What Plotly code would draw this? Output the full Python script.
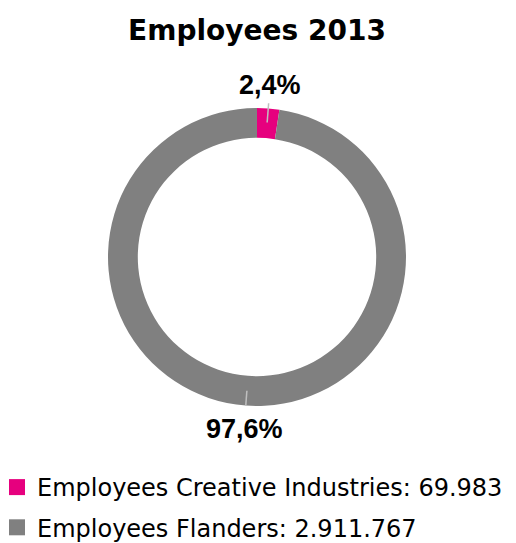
import math
import plotly.graph_objects as go

# ---- data ----
title_text = "Employees 2013"
categories = ["Employees Creative Industries", "Employees Flanders"]
employees_creative = 69983
employees_flanders_total = 2911767
legend_values = [employees_creative, employees_flanders_total]
slice_values = [employees_creative, employees_flanders_total - employees_creative]
colors = ["#E6007E", "#808080"]

# the page body adds an 8px offset, so the figure is drawn 8px smaller
OFF = 8
W, H = 516 - OFF, 543 - OFF
L, T = 108 - OFF, 108 - OFF
PW = PH = 298
R, B = W - L - PW, H - T - PH


def fmt_thousands(v):
    return f"{v:,}".replace(",", ".")


def px_to_paper_x(px):  # px in page coordinates
    return (px - OFF - L) / PW


def px_to_paper_y(py):
    return 1 - (py - OFF - T) / PH


fig = go.Figure()
fig.add_trace(go.Pie(
    values=slice_values,
    labels=categories,
    hole=0.80,
    sort=False,
    direction="clockwise",
    rotation=0,
    marker=dict(colors=colors, line=dict(width=0)),
    textinfo="none",
    showlegend=False,
    hoverinfo="skip",
))

# legend entries (dummy traces so the row spacing can be set)
for i, (cat, val, col) in enumerate(zip(categories, legend_values, colors)):
    fig.add_trace(go.Scatter(
        x=[None], y=[None], mode="markers",
        marker=dict(symbol="square", size=16, color=col),
        name=f"{cat}: {fmt_thousands(val)}",
        legendgroup=f"g{i}",
        showlegend=True,
        hoverinfo="skip",
    ))

# leader ticks and percent labels at slice midpoints
total = sum(slice_values)
cum = 0
shapes = []
annotations = []
for v in slice_values:
    mid = (cum + v / 2) / total * 2 * math.pi
    cum += v
    r0, r1 = (0.905, 1.035) if cum / total < 0.5 else (0.90, 1.0)
    sx, cx = math.sin(mid), math.cos(mid)
    shapes.append(dict(
        type="line", xref="paper", yref="paper",
        x0=0.5 + 0.5 * r0 * sx, y0=0.5 + 0.5 * r0 * cx,
        x1=0.5 + 0.5 * r1 * sx, y1=0.5 + 0.5 * r1 * cx,
        line=dict(color="#BFBFBF", width=1.5),
    ))
    pct = f"{v / total * 100:.1f}".replace(".", ",") + "%"
    annotations.append(dict(
        text=f"<b>{pct}</b>", showarrow=False,
        xref="paper", yref="paper",
        x=0.5 + 0.5 * 1.155 * sx, y=0.5 + 0.5 * 1.155 * cx,
        xanchor="center", yanchor="middle",
        font=dict(family="Liberation Sans", size=27, color="#000000"),
    ))

fig.update_layout(
    width=W, height=H,
    margin=dict(l=L, r=R, t=T, b=B, pad=0, autoexpand=False),
    paper_bgcolor="white", plot_bgcolor="white",
    separators=",.",
    title=dict(
        text=f"<b>{title_text}</b>",
        x=(257 - OFF) / W, xref="container", xanchor="center",
        y=1 - (30 - OFF) / H, yref="container", yanchor="middle",
        font=dict(family="DejaVu Sans", size=28, color="#000000"),
    ),
    xaxis=dict(visible=False, range=[0, 1], autorange=False),
    yaxis=dict(visible=False, range=[0, 1], autorange=False),
    legend=dict(
        xref="paper", yref="paper",
        x=px_to_paper_x(-3), xanchor="left",
        y=px_to_paper_y(465), yanchor="top",
        font=dict(family="DejaVu Sans", size=24, color="#000000"),
        tracegroupgap=6,
        bgcolor="rgba(0,0,0,0)",
        borderwidth=0,
        itemclick=False, itemdoubleclick=False,
    ),
    shapes=shapes,
    annotations=annotations,
)

fig.write_html("out.html")
